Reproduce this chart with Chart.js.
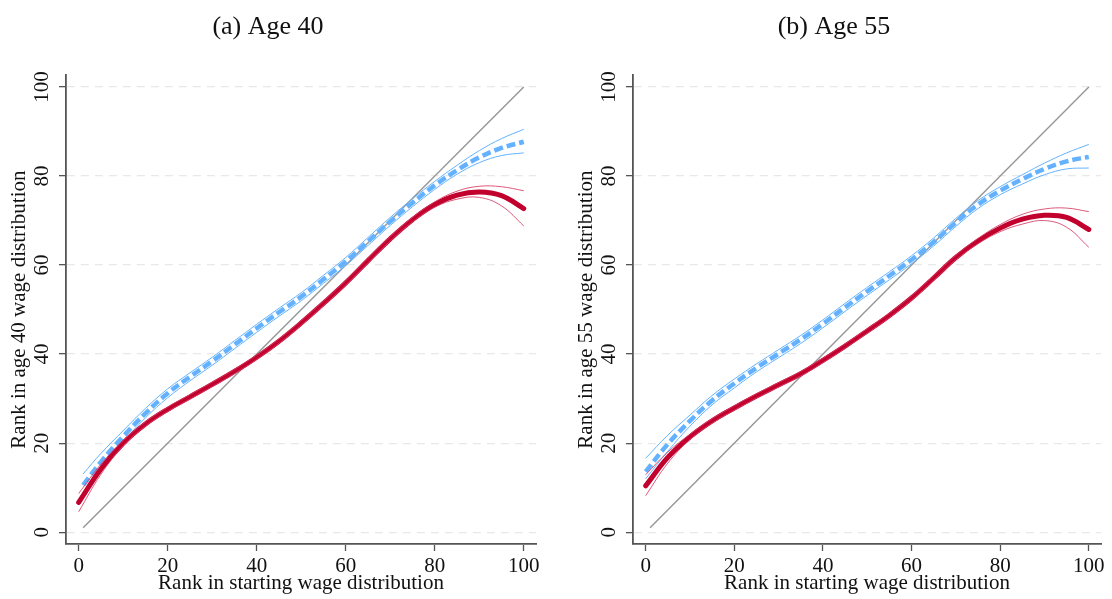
<!DOCTYPE html>
<html>
<head>
<meta charset="utf-8">
<script src="https://cdn.jsdelivr.net/npm/chart.js@4.4.1/dist/chart.umd.min.js"></script>
<style>
  html, body { margin: 0; padding: 0; background: #fff; }
  #wrap { position: relative; width: 1112px; height: 599px; }
  .panel { position: absolute; top: 0; width: 556px; height: 599px; }
</style>
</head>
<body>
<div id="wrap">
  <div class="panel" style="left:0"><canvas id="ca"></canvas></div>
  <div class="panel" style="left:556px"><canvas id="cb"></canvas></div>
</div>
<script>
// ---------- data ----------
const panelTitles = ['(a) Age 40', '(b) Age 55'];
const yTitles = ['Rank in age 40 wage distribution', 'Rank in age 55 wage distribution'];
const xTitle = 'Rank in starting wage distribution';
const tickValues = [0, 20, 40, 60, 80, 100];

const xs = [0, 5, 10, 15, 20, 25, 30, 35, 40, 45, 50, 55, 60, 65, 70, 75, 80, 85, 90, 95, 100];
const xsBlueA = [1, 5, 10, 15, 20, 25, 30, 35, 40, 45, 50, 55, 60, 65, 70, 75, 80, 85, 90, 95, 100];
const diagX = [1, 100];
const diagY = [1, 100];

// Panel (a) Age 40
const redA   = [6.7, 14.2, 20.0, 24.3, 27.6, 30.4, 33.2, 36.1, 39.3, 42.9, 47.0, 51.4, 56.0, 61.0, 65.9, 70.2, 73.6, 75.7, 76.4, 75.6, 72.7];
const redAHi = [8.7, 15.3, 20.6, 24.8, 28.1, 30.9, 33.7, 36.6, 39.8, 43.4, 47.5, 51.9, 56.5, 61.5, 66.4, 70.7, 74.2, 76.6, 77.7, 77.6, 76.7];
const redALo = [4.6, 13.0, 19.4, 23.8, 27.1, 29.9, 32.7, 35.6, 38.8, 42.4, 46.5, 50.9, 55.5, 60.5, 65.4, 69.7, 73.0, 74.8, 75.2, 73.3, 68.8];
const blueA   = [10.6, 15.8, 21.5, 26.7, 31.2, 34.9, 38.4, 42.1, 45.8, 49.4, 52.9, 56.8, 60.8, 65.3, 69.8, 74.0, 77.9, 81.3, 84.2, 86.3, 87.7];
const blueAHi = [13.1, 17.7, 22.8, 27.8, 32.2, 35.8, 39.3, 43.0, 46.7, 50.3, 53.8, 57.7, 61.7, 66.2, 70.7, 74.9, 78.8, 82.4, 85.7, 88.4, 90.5];
const blueALo = [8.8, 14.3, 20.3, 25.7, 30.2, 34.0, 37.5, 41.2, 44.9, 48.5, 52.0, 55.9, 59.9, 64.4, 68.9, 73.1, 77.0, 80.4, 83.0, 84.6, 85.2];

// Panel (b) Age 55
const redB   = [10.4, 16.8, 21.4, 25.0, 27.9, 30.6, 33.1, 35.6, 38.6, 41.8, 45.2, 48.7, 52.6, 57.1, 61.7, 65.4, 68.3, 70.3, 71.2, 70.7, 68.0];
const redBHi = [12.9, 18.0, 22.0, 25.5, 28.4, 31.1, 33.6, 36.1, 39.1, 42.3, 45.7, 49.2, 53.1, 57.6, 62.2, 66.0, 69.1, 71.4, 72.6, 72.8, 72.0];
const redBLo = [8.2, 15.5, 20.8, 24.5, 27.4, 30.1, 32.6, 35.1, 38.1, 41.3, 44.7, 48.2, 52.1, 56.6, 61.2, 64.8, 67.5, 69.2, 70.0, 68.5, 64.0];
const blueB   = [13.6, 19.8, 25.0, 29.6, 33.4, 36.9, 40.1, 43.3, 46.8, 50.5, 54.1, 57.6, 61.2, 65.2, 69.6, 73.6, 76.7, 79.3, 81.6, 83.3, 84.3];
const blueBHi = [16.6, 21.8, 26.3, 30.7, 34.4, 37.8, 41.0, 44.2, 47.7, 51.4, 55.0, 58.5, 62.1, 66.1, 70.5, 74.5, 77.6, 80.3, 82.9, 85.2, 87.1];
const blueBLo = [12.0, 18.2, 23.8, 28.6, 32.4, 36.0, 39.2, 42.4, 45.9, 49.6, 53.2, 56.7, 60.3, 64.3, 68.7, 72.7, 75.8, 78.2, 80.3, 81.6, 81.8];

// ---------- styling ----------
const FONT = "'Liberation Serif', 'Times New Roman', serif";
const RED = 'rgb(194, 0, 46)';
const RED_THIN = 'rgba(214, 60, 100, 0.85)';
const BLUE = 'rgb(100, 178, 255)';
const GRAY = 'rgb(150, 150, 150)';
const AXIS = 'rgb(85, 85, 85)';

function pts(xArr, yArr) { return xArr.map((x, i) => ({ x: x, y: yArr[i] })); }

function lineDs(data, color, width, extra) {
  return Object.assign({
    data: data, showLine: true, borderColor: color, backgroundColor: color,
    borderWidth: width, pointRadius: 0, pointHoverRadius: 0, fill: false,
    tension: 0.4
  }, extra || {});
}

function makeChart(id, idx, red, redHi, redLo, blue, blueHi, blueLo, xBlue, padL, padR) {
  const datasets = [
    lineDs(pts(xs, redHi), RED_THIN, 1),
    lineDs(pts(xs, redLo), RED_THIN, 1),
    lineDs(pts(xs, red), RED, 5, { borderCapStyle: 'round', borderJoinStyle: 'round' }),
    lineDs(pts(xBlue, blueHi), BLUE, 1),
    lineDs(pts(xBlue, blueLo), BLUE, 1),
    lineDs(pts(xBlue, blue), BLUE, 4.5, { borderDash: [9, 4], borderCapStyle: 'butt' }),
    lineDs(pts(diagX, diagY), GRAY, 1.4, { tension: 0 })
  ];
  return new Chart(document.getElementById(id), {
    type: 'scatter',
    data: { datasets: datasets },
    options: {
      responsive: true,
      maintainAspectRatio: false,
      animation: false,
      events: [],
      layout: { padding: { left: padL, right: padR, top: 0, bottom: 0 } },
      plugins: {
        legend: { display: false },
        tooltip: { enabled: false },
        title: {
          display: true,
          text: panelTitles[idx],
          color: '#111',
          font: { family: FONT, size: 26, weight: 'normal', lineHeight: 1.2 },
          padding: { top: 12, bottom: 32 }
        }
      },
      scales: {
        x: {
          type: 'linear',
          min: -2.85, max: 102.75,
          afterBuildTicks: s => { s.ticks = tickValues.map(v => ({ value: v })); },
          afterFit: s => { s.height = 55; },
          grid: { drawOnChartArea: false, drawTicks: true, tickLength: 7, tickColor: AXIS, tickWidth: 1.3 },
          border: { display: true, color: AXIS, width: 1.8 },
          ticks: { color: '#111', font: { family: FONT, size: 21 }, padding: 3, maxRotation: 0, minRotation: 0 },
          title: { display: true, text: xTitle, color: '#111', font: { family: FONT, size: 21, lineHeight: 1.2 }, padding: { top: 0, bottom: 3 } }
        },
        y: {
          type: 'linear',
          min: -2.65, max: 102.65,
          afterBuildTicks: s => { s.ticks = tickValues.map(v => ({ value: v })); },
          afterFit: s => { s.width = 66; },
          grid: { drawOnChartArea: true, color: 'rgb(232, 232, 232)', lineWidth: 1.3, drawTicks: true, tickLength: 7, tickColor: AXIS, tickWidth: 1.3 },
          border: { display: true, color: AXIS, width: 1.8, dash: [8, 6] },
          ticks: { color: '#111', font: { family: FONT, size: 21 }, padding: 1, minRotation: 90, maxRotation: 90, crossAlign: 'center' },
          title: { display: true, text: yTitles[idx], color: '#111', font: { family: FONT, size: 21, lineHeight: 1.2 }, padding: { top: 7, bottom: 0 } }
        }
      }
    }
  });
}

makeChart('ca', 0, redA, redAHi, redALo, blueA, blueAHi, blueALo, xsBlueA, 0, 20);
makeChart('cb', 1, redB, redBHi, redBLo, blueB, blueBHi, blueBLo, xs, 11, 11);
</script>
</body>
</html>
